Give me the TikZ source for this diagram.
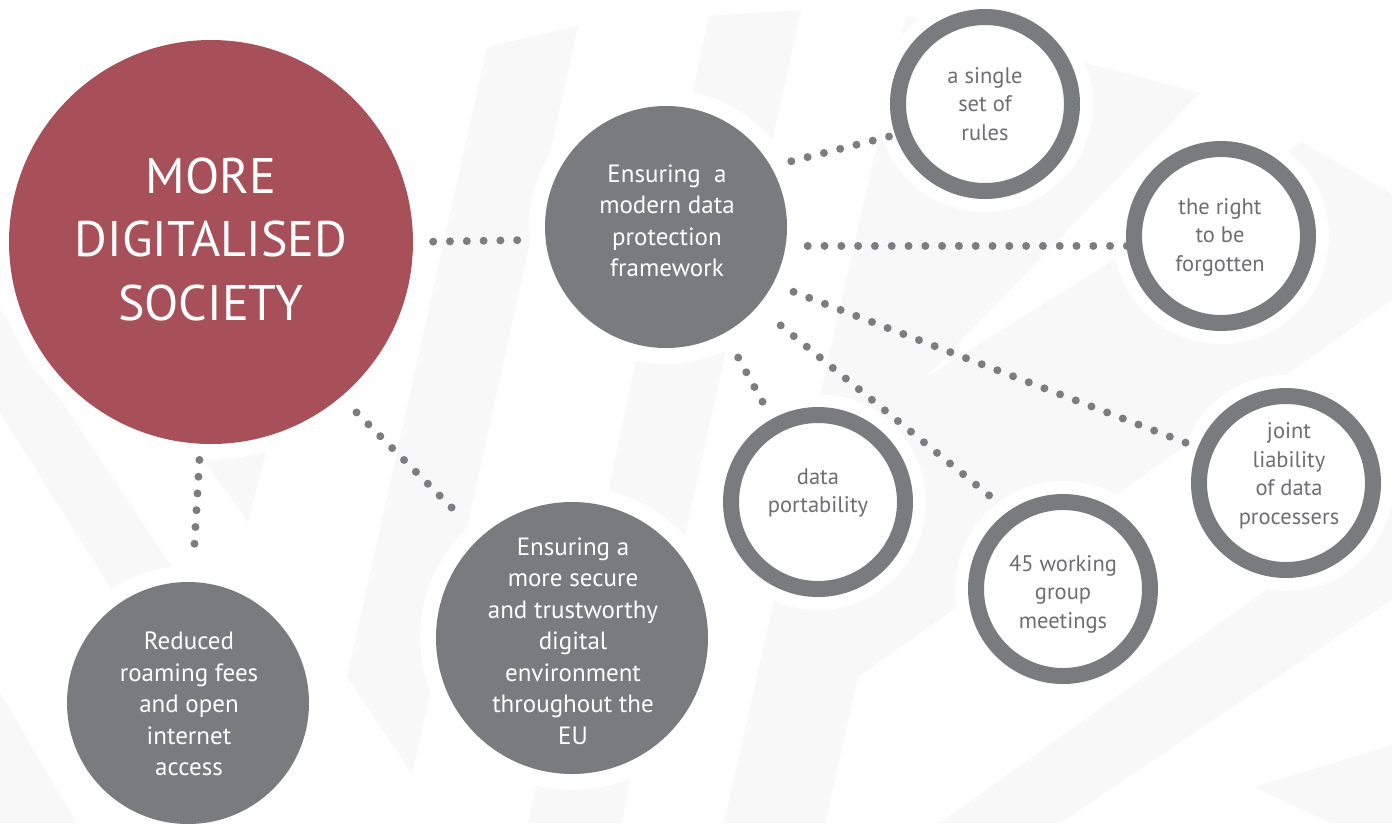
\documentclass[tikz,border=0pt]{standalone}
\usepackage{fontspec}
\setmainfont{PT Sans}
\pgfdeclarelayer{stripes}
\pgfdeclarelayer{links}
\pgfsetlayers{stripes,links,main}
\definecolor{socred}{HTML}{A8505A}
\definecolor{cgray}{HTML}{7A7B7F}
\definecolor{tgray}{HTML}{6D6E71}
\definecolor{dotgray}{HTML}{7C7D81}
\definecolor{stripe}{HTML}{F8F8F8}
\tikzset{
  bigdisc/.style={circle, fill=socred, minimum size=404pt, inner sep=0pt},
  disc/.style={circle, fill=cgray, inner sep=0pt},
  ringnode/.style={circle, draw=cgray, line width=16pt, fill=white, minimum size=174pt, inner sep=0pt},
  bigtext/.style={text=white, align=center, font=\fontsize{50}{63.5}\selectfont},
  wtext/.style={text=white, align=center, font=\fontsize{25}{31.5}\selectfont},
  rtext/.style={text=tgray, align=center, font=\fontsize{22.5}{28.5}\selectfont},
  link/.style={draw=dotgray, line width=8pt, line cap=round, dash pattern=on 0pt off 16.8pt},
  halo/.style={fill=white},
  stripeshape/.style={fill=stripe}
}
\begin{document}
\begin{tikzpicture}[x=1pt,y=-1pt]
\useasboundingbox (0,0) rectangle (1392,823);

% ---- nodes ----
\node[bigdisc] (soc) at (211,242) {};
\node[disc, minimum size=242pt] (dp) at (666,227) {};
\node[disc, minimum size=272pt] (sec) at (572,638) {};
\node[disc, minimum size=242pt] (roam) at (188,703) {};
\node[ringnode] (single) at (985,104) {};
\node[ringnode] (right) at (1221,236) {};
\node[ringnode] (joint) at (1286,483) {};
\node[ringnode] (meet) at (1063,589) {};
\node[ringnode] (port) at (818,502) {};

% ---- texts ----
\node[bigtext] (socT) at (211,239) {MORE\\DIGITALISED\\SOCIETY};
\node[wtext] (dpT) at (667,221) {Ensuring\ \ a\\modern data\\protection\\framework};
\node[wtext] (secT) at (573,641) {Ensuring a\\more secure\\and trustworthy\\digital\\environment\\throughout the\\EU};
\node[wtext] (roamT) at (189,704) {Reduced\\roaming fees\\and open\\internet\\access};
\node[rtext] (singleT) at (985,104) {a single\\set of\\rules};
\node[rtext] (rightT) at (1220,237) {the right\\to be\\forgotten};
\node[rtext] (jointT) at (1289,476) {joint\\liability\\of data\\processers};
\node[rtext] (meetT) at (1063,594) {45 working\\group\\meetings};
\node[rtext] (portT) at (818,493) {data\\portability};

% ---- background stripes and halos ----
\begin{pgfonlayer}{stripes}
\fill[white] (0,0) rectangle (1392,823);
\fill[stripeshape] (487,47) -- (578,26) -- (412,774) -- (347,677) -- cycle;
\fill[stripeshape] (709,16) -- (801,10) -- (673,590) -- (608,493) -- cycle;
\fill[stripeshape] (558,690) -- (645,690) -- (622,823) -- (528,823) -- cycle;
\fill[stripeshape] (906,15) -- (1200,93) -- (925,378) -- (1302,142) -- (1392,194)
  -- (1392,300) -- (858,677) -- (825,823) -- (724,823) -- cycle;
\fill[stripeshape] (940,823) -- (1392,500) -- (1392,600) -- (1060,823) -- cycle;
\fill[stripeshape] (1254,787) -- (1392,745) -- (1392,823) -- (1330,823) -- cycle;
\fill[stripeshape] (0,308) -- (227,650) -- (150,650) -- (0,413) -- cycle;
\fill[stripeshape] (0,693) -- (77,823) -- (0,823) -- cycle;
\fill[stripeshape] (205,462) -- (266,452) -- (248,522) -- cycle;
\fill[halo] (soc.center) circle (217pt);
\fill[halo] (dp.center) circle (137pt);
\fill[halo] (sec.center) circle (152pt);
\fill[halo] (roam.center) circle (137pt);
\foreach \n in {single,right,joint,meet,port}
  \fill[halo] (\n.center) circle (108pt);
\end{pgfonlayer}

% ---- dotted connectors ----
\begin{pgfonlayer}{links}
\draw[link, shorten <=20pt, shorten >=14pt] (soc.0.6) -- (dp.186.2);
\draw[link, shorten <=16pt, shorten >=25pt] (soc.-93) -- (roam.88.6);
\draw[link, shorten <=22pt, shorten >=28pt] (soc.-50.5) -- (sec.132.5);
\draw[link, shorten <=21pt, shorten >=2pt] (dp.30) -- (single.199);
\draw[link, shorten <=22pt, shorten >=-1pt] (dp.-9) -- (right.186);
\draw[link, shorten <=22pt, shorten >=10pt] (dp.-28.7) -- (joint.158.3);
\draw[link, shorten <=30pt, shorten >=14pt] (dp.-41.3) -- (meet.125.7);
\draw[link, shorten <=28pt, shorten >=14pt] (dp.-61.2) -- (port.119.8);
\end{pgfonlayer}
\end{tikzpicture}
\end{document}
